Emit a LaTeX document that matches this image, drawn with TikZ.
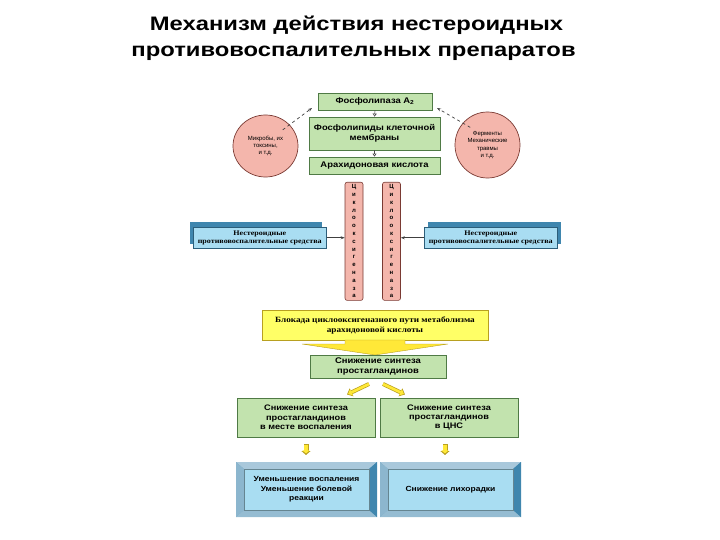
\documentclass[tikz,border=0pt]{standalone}
\usepackage{fontspec}
\setmainfont{Liberation Sans}
\newfontfamily\serifcyr[FakeStretch=1.15]{Liberation Serif}
\newfontfamily\bodyfont[FakeStretch=1.15]{Liberation Sans}
\newfontfamily\titlefont[FakeStretch=1.22]{Liberation Sans}
\usetikzlibrary{arrows.meta,shapes.geometric,calc}
\definecolor{grfill}{HTML}{C2E3AE}
\definecolor{grdraw}{HTML}{4F7A45}
\definecolor{pkfill}{HTML}{F4B6AC}
\definecolor{pkdraw}{HTML}{7A3A33}
\definecolor{blfill}{HTML}{A9DDF2}
\definecolor{bldark}{HTML}{3F86AE}
\definecolor{yel}{HTML}{FFFF66}
\definecolor{yeldraw}{HTML}{B8A020}
\definecolor{arrowyel}{HTML}{FFE838}
\tikzset{
  gbox/.style={draw=grdraw,line width=0.8pt,fill=grfill,align=center,font=\bodyfont\fontsize{8.2}{9.6}\selectfont\bfseries,inner sep=1pt},
  pkell/.style={draw=pkdraw,line width=0.7pt,fill=pkfill,ellipse,align=center,font=\fontsize{6}{7.2}\selectfont,inner sep=0pt},
  pkbar/.style={draw=pkdraw,line width=0.6pt,fill=pkfill,rounded corners=2pt,align=center,font=\fontsize{6}{7.8}\selectfont\bfseries,inner sep=0pt},
  hollowdn/.style={-{Triangle[open,length=3pt,width=4pt]},line width=0.6pt,draw=black!70},
  dasharr/.style={dashed,-{Stealth[length=4pt]},line width=0.7pt,draw=black!75},
  solarr/.style={-{Stealth[length=4pt]},line width=0.7pt,draw=black!75},
  bltext/.style={align=center,font=\serifcyr\fontsize{7}{8}\selectfont\bfseries,inner sep=0pt},
  bevtext/.style={align=center,font=\bodyfont\fontsize{7.4}{9.4}\selectfont\bfseries,inner sep=0pt},
  ttl/.style={font=\titlefont\fontsize{19.5}{24}\selectfont\bfseries,anchor=base,inner sep=0pt},
}
\begin{document}
\begin{tikzpicture}[x=1pt,y=-1pt]
\useasboundingbox (0,0) rectangle (720,540);
% title
\node[ttl] (title1) at (356.5,31) {Механизм действия нестероидных};
\node[ttl] (title2) at (353.5,57) {противовоспалительных препаратов};
% top green boxes
\node[gbox,minimum width=114pt,minimum height=17pt] (pla) at (375,101.5) {Фосфолипаза A\textsubscript{2}};
\node[gbox,minimum width=131pt,minimum height=33pt] (phl) at (374.5,133.5) {Фосфолипиды клеточной\\мембраны};
\node[gbox,minimum width=131pt,minimum height=17pt] (ara) at (374.5,165.5) {Арахидоновая кислота};
\draw[hollowdn] (pla.south) -- (phl.north);
\draw[hollowdn] (phl.south) -- (ara.north);
% ellipses
\node[pkell,minimum width=65pt,minimum height=62pt] (mic) at (265.5,146) {Микробы, их\\токсины,\\и т.д.};
\node[pkell,minimum width=65pt,minimum height=66pt] (fer) at (487.5,145) {Ферменты\\Механические\\травмы\\и т.д.};
\coordinate (pltip) at (312,108);
\coordinate (prtip) at (437,108);
\draw[dasharr] (mic.north east) ++(-6,6) -- (pltip);
\draw[dasharr] (fer.north west) ++(6,6) -- (prtip);
% vertical bars
\node[pkbar,minimum width=18pt,minimum height=118pt,anchor=north] (c1) at (354,182)
  {Ц\\и\\к\\л\\о\\о\\к\\с\\и\\г\\е\\н\\а\\з\\а};
\node[pkbar,minimum width=18pt,minimum height=118pt,anchor=north] (c2) at (391.5,182)
  {Ц\\и\\к\\л\\о\\о\\к\\с\\и\\г\\е\\н\\а\\з\\а};
% blue NSAID boxes
\fill[bldark] (190,222) rectangle (322,244);
\node[draw=bldark!70!black,line width=0.5pt,fill=blfill,minimum width=133pt,minimum height=21pt,anchor=north west,bltext] (nl) at (193,227)
  {Нестероидные\\противовоспалительные средства};
\fill[bldark] (428,222) rectangle (561,244);
\node[draw=bldark!70!black,line width=0.5pt,fill=blfill,minimum width=133pt,minimum height=21pt,anchor=north west,bltext] (nr) at (424,227)
  {Нестероидные\\противовоспалительные средства};
\draw[solarr] (nl.east) -- (c1.west |- nl.east);
\draw[solarr] (nr.west) -- (c2.east |- nr.west);
% yellow blockade box
\node[draw=yeldraw,line width=0.7pt,fill=yel,minimum width=226pt,minimum height=30pt,align=center,
  font=\serifcyr\fontsize{8}{10}\selectfont\bfseries,inner sep=0pt] (blk) at (375,325)
  {Блокада циклооксигеназного пути метаболизма\\арахидоновой кислоты};
% big yellow arrow
\fill[arrowyel,draw=yeldraw,line width=0.4pt] (345,340) -- (405,340) -- (405,344) -- (448,344) -- (375,355) -- (302,344) -- (345,344) -- cycle;
% middle green
\node[gbox,minimum width=136pt,minimum height=23pt] (syn) at (378,366.5) {Снижение синтеза\\простагландинов};
% two green boxes
\node[gbox,minimum width=138pt,minimum height=39pt,font=\bodyfont\fontsize{8}{9.4}\selectfont\bfseries] (sl) at (306,417.5)
  {Снижение синтеза\\простагландинов\\в месте воспаления};
\node[gbox,minimum width=138pt,minimum height=39pt,font=\bodyfont\fontsize{8}{9.4}\selectfont\bfseries] (sr) at (449,417.5)
  {Снижение синтеза\\простагландинов\\в ЦНС};
% diagonal yellow arrows
\foreach \a/\b in {{(369,384)}/{(347,394.5)},{(383,384)}/{(405,394.5)}}{
  \draw[line width=4pt,draw=yeldraw,-{Triangle[length=5pt,width=8.5pt]}] \a -- \b;
  \draw[line width=2.6pt,draw=arrowyel,shorten >=1.2pt,-{Triangle[length=3.8pt,width=6.5pt]}] \a -- \b;
}
% small down arrows
\foreach \x in {306,445}{
  \draw[line width=5pt,draw=yeldraw,-{Triangle[length=4pt,width=9pt]}] (\x,444) -- (\x,455);
  \draw[line width=3.6pt,draw=arrowyel,shorten >=1pt,-{Triangle[length=3pt,width=7pt]}] (\x,444.6) -- (\x,454.4);
}
% bevelled blue result boxes
\foreach \xa/\xb/\nm in {236/377/bl,380/521/br}{
  \fill[bldark!80] (\xa,462) rectangle (\xb,517);
  \fill[bldark!45!white] (\xa,462) -- (\xb,462) -- (\xb-8,469) -- (\xa+8,469) -- cycle;
  \fill[bldark!60!white] (\xa,462) -- (\xa+8,469) -- (\xa+8,510) -- (\xa,517) -- cycle;
  \fill[bldark!55!white] (\xa,517) -- (\xb,517) -- (\xb-8,510) -- (\xa+8,510) -- cycle;
  \fill[bldark] (\xb,462) -- (\xb-8,469) -- (\xb-8,510) -- (\xb,517) -- cycle;
  \draw[blfill!60!black,line width=0.4pt,fill=blfill] (\xa+8,469) rectangle (\xb-8,510);
}
\node[bevtext] (rl) at (306.5,489.5) {Уменьшение воспаления\\Уменьшение болевой\\реакции};
\node[bevtext] (rr) at (450.5,489.5) {Снижение лихорадки};
\end{tikzpicture}
\end{document}
